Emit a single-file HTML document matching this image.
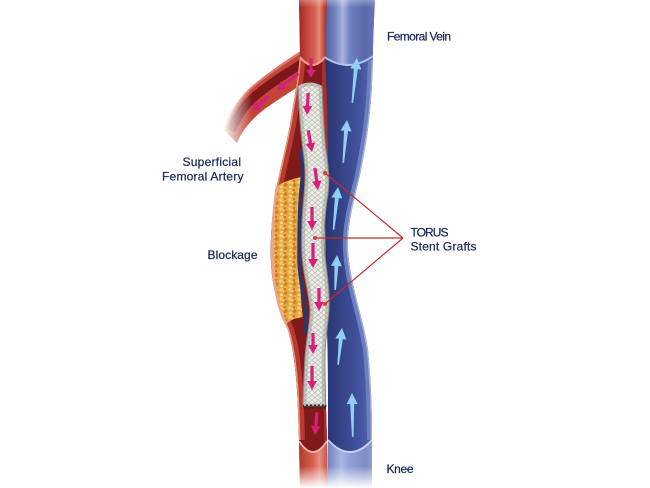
<!DOCTYPE html>
<html><head><meta charset="utf-8"><style>
html,body{margin:0;padding:0;background:#fff;}
svg{display:block;}
text{font-family:"Liberation Sans",Arial,sans-serif;font-size:12px;fill:#1b295c;stroke:#1b295c;stroke-width:0.25px;}
</style></head><body>
<svg width="650" height="488" viewBox="0 0 650 488" xmlns="http://www.w3.org/2000/svg">
<defs>
  <pattern id="mesh" width="6" height="5" patternUnits="userSpaceOnUse">
    <rect width="6" height="5" fill="#edece7"/>
    <path d="M0,0 L3,2.5 L6,0 M0,5 L3,2.5 L6,5" stroke="#b6b6b0" stroke-width="0.6" fill="none"/>
    <circle cx="1.5" cy="3.5" r="0.6" fill="#cfcfc9"/>
    <circle cx="4.5" cy="1" r="0.4" fill="#a8b89a"/>
  </pattern>
  <pattern id="plaque" width="9" height="9" patternUnits="userSpaceOnUse">
    <rect width="9" height="9" fill="#e6a744"/>
    <circle cx="2" cy="2" r="1.7" fill="#f5c96e"/>
    <circle cx="6.5" cy="5" r="1.9" fill="#c98329"/>
    <circle cx="6" cy="1" r="1" fill="#b87020"/>
    <circle cx="2.5" cy="7" r="1.4" fill="#f7d482"/>
    <circle cx="4.5" cy="3.5" r="0.8" fill="#fbe0a0"/>
  </pattern>
  <linearGradient id="veinIn" gradientUnits="userSpaceOnUse" x1="322" y1="0" x2="372" y2="0">
    <stop offset="0" stop-color="#25306c"/><stop offset="0.4" stop-color="#36448a"/>
    <stop offset="0.8" stop-color="#4555a0"/><stop offset="1" stop-color="#5a6cb0"/>
  </linearGradient>
  <linearGradient id="veinTop" gradientUnits="userSpaceOnUse" x1="323" y1="0" x2="375" y2="0">
    <stop offset="0" stop-color="#4a5898"/><stop offset="0.25" stop-color="#7886c4"/>
    <stop offset="0.38" stop-color="#aab5e2"/><stop offset="0.52" stop-color="#7080c0"/>
    <stop offset="0.8" stop-color="#5868aa"/><stop offset="1" stop-color="#6878b8"/>
  </linearGradient>
  <linearGradient id="veinBot" gradientUnits="userSpaceOnUse" x1="328" y1="0" x2="372" y2="0">
    <stop offset="0" stop-color="#7483c0"/><stop offset="0.3" stop-color="#a9b5e3"/>
    <stop offset="0.5" stop-color="#909ed5"/><stop offset="0.85" stop-color="#7d8cc7"/>
    <stop offset="1" stop-color="#8e9cd2"/>
  </linearGradient>
  <linearGradient id="artTop" gradientUnits="userSpaceOnUse" x1="299" y1="0" x2="327" y2="0">
    <stop offset="0" stop-color="#9a2a22"/><stop offset="0.2" stop-color="#bb3d33"/>
    <stop offset="0.55" stop-color="#d4604f"/><stop offset="0.72" stop-color="#e48a78"/>
    <stop offset="0.88" stop-color="#c9493d"/><stop offset="1" stop-color="#a02e26"/>
  </linearGradient>
  <linearGradient id="artBot" gradientUnits="userSpaceOnUse" x1="300" y1="0" x2="328" y2="0">
    <stop offset="0" stop-color="#b53c32"/><stop offset="0.45" stop-color="#d65f50"/>
    <stop offset="0.7" stop-color="#e99080"/><stop offset="1" stop-color="#c44b40"/>
  </linearGradient>
  <linearGradient id="fadeV" gradientUnits="userSpaceOnUse" x1="0" y1="0" x2="0" y2="488">
    <stop offset="0" stop-color="#fff" stop-opacity="0.7"/>
    <stop offset="0.015" stop-color="#fff" stop-opacity="1"/>
    <stop offset="0.955" stop-color="#fff" stop-opacity="1"/>
    <stop offset="1" stop-color="#fff" stop-opacity="0"/>
  </linearGradient>
  <mask id="mV" maskUnits="userSpaceOnUse" x="0" y="0" width="650" height="488">
    <rect x="0" y="0" width="650" height="488" fill="url(#fadeV)"/>
  </mask>
  <linearGradient id="fadeH" gradientUnits="userSpaceOnUse" x1="222" y1="0" x2="252" y2="0">
    <stop offset="0" stop-color="#fff" stop-opacity="0"/>
    <stop offset="1" stop-color="#fff" stop-opacity="1"/>
  </linearGradient>
  <mask id="mH" maskUnits="userSpaceOnUse" x="0" y="0" width="650" height="488">
    <rect x="0" y="0" width="650" height="488" fill="url(#fadeH)"/>
  </mask>
  <clipPath id="veinClip"><path d="M323,-2 L375,-2 C374,20 373,40 373,55 C372,110 367,140 360,175 C353,205 347,225 348,250 C350,285 364,320 368,350 C371,380 372,410 372,440 L372,490 L328,490 L328,440 C328,400 328,360 327,330 C326,300 325,250 325,200 C325,160 322,120 322,90 C322,70 323,50 323,-2 Z"/></clipPath>
  <clipPath id="artClip"><path d="M299,-2 L327,-2 L325,55 L327,100 L328,150 L328,180 L324,200 L324,300 L326,407 L327,440 L328,490 L300,490 L299,440 L298,410 C297,380 294,350 288,330 C280,312 272,290 271,262 C270,240 272,210 277,185 C282,160 289,135 292,112 C296,90 299,70 300,52 Z"/></clipPath>
  <clipPath id="stentClip"><path d="M298,86 C299,110 301,135 303,150 C305,165 306,175 304,195 C302,215 301,235 302,255 C303,275 309,292 310,310 C310,325 306,340 305,357 C304,375 303,395 303,407 L326,407 C325,395 325,375 325,357 C325,340 328,325 329,310 C330,292 327,275 325,255 C323,235 325,215 327,200 C330,185 329,170 326,150 C324,135 323,110 322,86 Q310,79 298,86 Z"/></clipPath>
</defs>

<!-- BRANCH -->
<g mask="url(#mH)">
  <path d="M305,48 C290,58 262,76 246,92 C236,103 229,116 224,130 L237,143 C242,130 254,116 269,106 C282,97 292,91 299,86 Z" fill="#c4443a"/>
  <path d="M303,63 C288,72 262,88 247,104 C240,112 235,121 231,131" stroke="#7d1719" stroke-width="9" fill="none"/>
  <path d="M304,50 C290,60 262,77 246,93 C236,104 229,116 225,129" stroke="#dd7a68" stroke-width="2" fill="none"/>
</g>

<g mask="url(#mV)">
  <!-- VEIN -->
  <g clip-path="url(#veinClip)">
    <rect x="320" y="-2" width="60" height="492" fill="url(#veinIn)"/>
    <path d="M373,56 C372,110 367,140 360,175 C353,205 347,225 348,250 C350,285 364,320 368,350 C371,380 372,410 372,440" stroke="#6d7fc1" stroke-width="10" fill="none"/>
    <path d="M373,56 C372,110 367,140 360,175 C353,205 347,225 348,250 C350,285 364,320 368,350 C371,380 372,410 372,440" stroke="#a6b3e6" stroke-width="2.5" fill="none"/>
    <path d="M320,-2 L380,-2 L380,56 Q348,74 320,56 Z" fill="url(#veinTop)"/>
    <path d="M323,56 Q348,74 373,56" stroke="#b4bfea" stroke-width="2" fill="none"/>
    <path d="M326,440 Q350,464 374,440 L374,490 L326,490 Z" fill="url(#veinBot)"/>
    <path d="M328,440 Q350,464 372,440" stroke="#c8d0f2" stroke-width="2" fill="none"/>
  </g>

  <!-- ARTERY -->
  <g clip-path="url(#artClip)">
    <rect x="265" y="-2" width="70" height="492" fill="#811a1a"/>
    <path d="M327,60 L327,100 L328,150 L328,180" stroke="#a8302a" stroke-width="10" fill="none"/>
    <path d="M300,52 C299,70 296,90 292,112 C289,135 282,160 277,185 C272,210 270,240 271,262 C272,290 280,312 288,330 C294,350 297,380 298,410 L299,440" stroke="#b93a31" stroke-width="12" fill="none"/>
    <path d="M300,52 C299,70 296,90 292,112 C289,135 282,160 277,185 C272,210 270,240 271,262 C272,290 280,312 288,330 C294,350 297,380 298,410 L299,440" stroke="#e99580" stroke-width="3" fill="none"/>
    <path d="M327,407 L327,441" stroke="#a8302a" stroke-width="6" fill="none"/>
    <path d="M295,-2 L330,-2 L330,57 L325,57 Q312.5,73 300,57 L295,57 Z" fill="url(#artTop)"/>
    <path d="M300,57 Q312.5,73 325,57" stroke="#f0a08e" stroke-width="2" fill="none"/>
    <path d="M295,441 L299,441 Q313,463 327,441 L332,441 L332,490 L295,490 Z" fill="url(#artBot)"/>
    <path d="M299,441 Q313,463 327,441" stroke="#f4b0a0" stroke-width="2" fill="none"/>
  </g>
</g>

<!-- BLOCKAGE -->
<path d="M277,186 C285,181 295,178 302,177 C301,200 300,230 300,260 C300,285 301,305 303,317 C296,318 290,320 286,324 C280,312 274,292 273,265 C272,240 273,210 277,186 Z" fill="url(#plaque)"/>
<path d="M277,186 C273,210 272,240 273,265 C274,292 280,312 286,324" stroke="#f1a48c" stroke-width="2.5" fill="none"/>

<!-- navy strip left of stent -->
<path d="M301,150 C303,165 303,175 301,190 C299,210 299,240 299,260 C300,285 305,300 306,318 C306,325 305,330 304,335" stroke="#2a376f" stroke-width="3.5" fill="none"/>

<!-- STENT -->
<path d="M298,86 C299,110 301,135 303,150 C305,165 306,175 304,195 C302,215 301,235 302,255 C303,275 309,292 310,310 C310,325 306,340 305,357 C304,375 303,395 303,407 L326,407 C325,395 325,375 325,357 C325,340 328,325 329,310 C330,292 327,275 325,255 C323,235 325,215 327,200 C330,185 329,170 326,150 C324,135 323,110 322,86 Q310,79 298,86 Z" fill="url(#mesh)"/>
<g clip-path="url(#stentClip)">
  <path d="M298,86 C299,110 301,135 303,150 C305,165 306,175 304,195 C302,215 301,235 302,255 C303,275 309,292 310,310 C310,325 306,340 305,357 C304,375 303,395 303,407 L326,407 C325,395 325,375 325,357 C325,340 328,325 329,310 C330,292 327,275 325,255 C323,235 325,215 327,200 C330,185 329,170 326,150 C324,135 323,110 322,86 Q310,79 298,86 Z" fill="none" stroke="#8f8f8a" stroke-opacity="0.4" stroke-width="7"/>
</g>
<path d="M298,86 C299,110 301,135 303,150 C305,165 306,175 304,195 C302,215 301,235 302,255 C303,275 309,292 310,310 C310,325 306,340 305,357 C304,375 303,395 303,407 M326,407 C325,395 325,375 325,357 C325,340 328,325 329,310 C330,292 327,275 325,255 C323,235 325,215 327,200 C330,185 329,170 326,150 C324,135 323,110 322,86" fill="none" stroke="#8a8a83" stroke-width="1"/>
<path d="M303,405 l2,3 l2,-3 l2,3 l2,-3 l2,3 l2,-3 l2,3 l2,-3 l2,3 l2,-3 l2,3 l1,-3" stroke="#3a2020" stroke-width="1.3" fill="none"/>

<!-- PINK ARROWS -->
<g fill="#d61f78">
  <g transform="translate(311,78)"><path d="M-1.6,-20 L1.6,-20 L1.6,-8 L4.8,-8 L0,0 L-4.8,-8 L-1.6,-8 Z"/></g>
  <g transform="translate(277,90) rotate(52)"><path d="M-1.6,-27 L1.6,-27 L1.6,-8 L4.8,-8 L0,0 L-4.8,-8 L-1.6,-8 Z"/></g>
  <g transform="translate(252,110) rotate(50)"><path d="M-1.6,-22 L1.6,-22 L1.6,-8 L4.8,-8 L0,0 L-4.8,-8 L-1.6,-8 Z"/></g>
  <g transform="translate(307,115) rotate(3)"><path d="M-1.6,-22 L1.6,-22 L1.6,-9 L4.8,-9 L0,0 L-4.8,-9 L-1.6,-9 Z"/></g>
  <g transform="translate(312,152) rotate(-10)"><path d="M-1.6,-22 L1.6,-22 L1.6,-9 L4.8,-9 L0,0 L-4.8,-9 L-1.6,-9 Z"/></g>
  <g transform="translate(318,190) rotate(-8)"><path d="M-1.6,-22 L1.6,-22 L1.6,-9 L4.8,-9 L0,0 L-4.8,-9 L-1.6,-9 Z"/></g>
  <g transform="translate(312,230)"><path d="M-1.6,-23 L1.6,-23 L1.6,-9 L4.8,-9 L0,0 L-4.8,-9 L-1.6,-9 Z"/></g>
  <g transform="translate(313,268)"><path d="M-1.6,-25 L1.6,-25 L1.6,-9 L4.8,-9 L0,0 L-4.8,-9 L-1.6,-9 Z"/></g>
  <g transform="translate(319,311)"><path d="M-1.6,-23 L1.6,-23 L1.6,-9 L4.8,-9 L0,0 L-4.8,-9 L-1.6,-9 Z"/></g>
  <g transform="translate(313,354)"><path d="M-1.6,-21 L1.6,-21 L1.6,-9 L4.8,-9 L0,0 L-4.8,-9 L-1.6,-9 Z"/></g>
  <g transform="translate(312,390)"><path d="M-1.6,-24 L1.6,-24 L1.6,-9 L4.8,-9 L0,0 L-4.8,-9 L-1.6,-9 Z"/></g>
  <g transform="translate(315,435) rotate(5)"><path d="M-1.6,-23 L1.6,-23 L1.6,-9 L4.8,-9 L0,0 L-4.8,-9 L-1.6,-9 Z"/></g>
</g>

<!-- BLUE ARROWS -->
<g fill="#8fd0f2">
  <g transform="translate(357,58) rotate(6)"><path d="M-0.8,45 L0.8,45 L2,11 L5.5,11 L0,0 L-5.5,11 L-2,11 Z"/></g>
  <g transform="translate(347,120) rotate(5)"><path d="M-0.8,43 L0.8,43 L2,11 L5.5,11 L0,0 L-5.5,11 L-2,11 Z"/></g>
  <g transform="translate(338,187) rotate(6)"><path d="M-0.8,43 L0.8,43 L2,11 L5.5,11 L0,0 L-5.5,11 L-2,11 Z"/></g>
  <g transform="translate(337,255) rotate(3)"><path d="M-0.8,35 L0.8,35 L2,11 L5.5,11 L0,0 L-5.5,11 L-2,11 Z"/></g>
  <g transform="translate(342,328) rotate(6)"><path d="M-0.8,37 L0.8,37 L2,11 L5.5,11 L0,0 L-5.5,11 L-2,11 Z"/></g>
  <g transform="translate(352,393) rotate(-1)"><path d="M-0.8,44 L0.8,44 L2,11 L5.5,11 L0,0 L-5.5,11 L-2,11 Z"/></g>
</g>

<!-- POINTER LINES -->
<g stroke="#c42b2b" stroke-width="1.2" fill="none">
  <path d="M325,173 L403,238"/>
  <path d="M315,238 L403,238"/>
  <path d="M325,304 L403,238"/>
</g>
<g fill="#d0402c">
  <circle cx="325" cy="173" r="2"/>
  <circle cx="315" cy="238" r="2"/>
  <circle cx="325" cy="304" r="2"/>
</g>

<!-- LABELS -->
<text x="387" y="40.5" textLength="64" lengthAdjust="spacing">Femoral Vein</text>
<text x="182.5" y="166" textLength="58.5" lengthAdjust="spacing">Superficial</text>
<text x="162" y="180.5" textLength="81.5" lengthAdjust="spacing">Femoral  Artery</text>
<text x="207.5" y="259" textLength="50" lengthAdjust="spacing">Blockage</text>
<text x="410.5" y="236.7" textLength="38" lengthAdjust="spacing">TORUS</text>
<text x="410.5" y="250.5" textLength="66" lengthAdjust="spacing">Stent Grafts</text>
<text x="386.5" y="473" textLength="27" lengthAdjust="spacing">Knee</text>
</svg>
</body></html>
